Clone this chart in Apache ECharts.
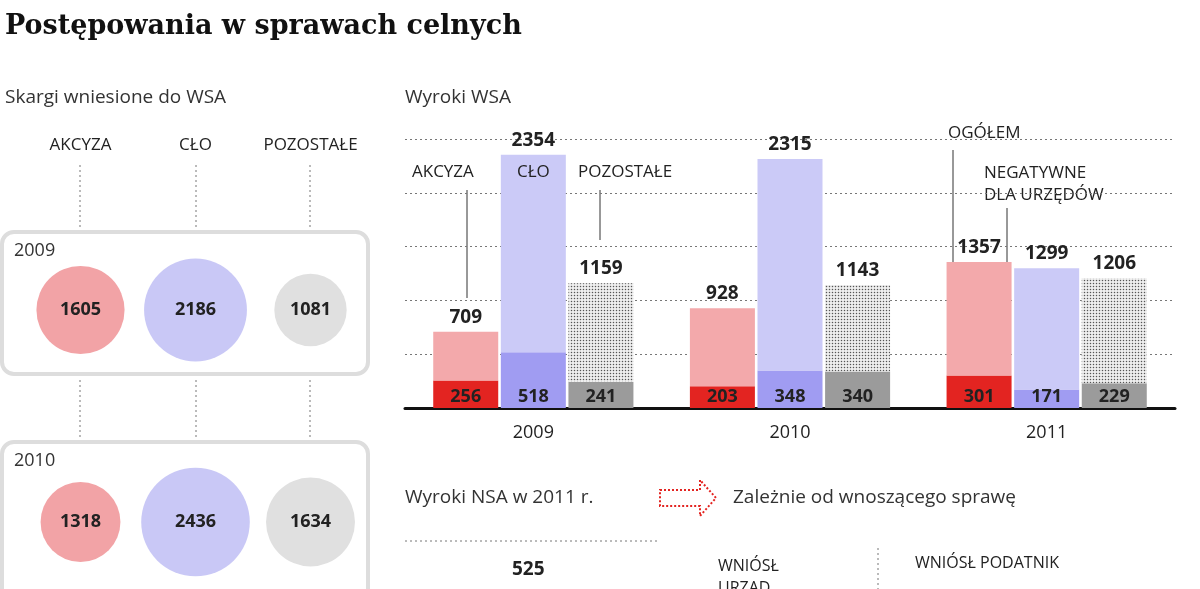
<!DOCTYPE html>
<html><head><meta charset="utf-8">
<script src="https://cdn.jsdelivr.net/npm/echarts@6/dist/echarts.min.js"></script>
<style>html,body{margin:0;background:#fff}#c{width:1200px;height:589px}</style>
</head><body><div id="c"></div>
<script>
// Skargi wniesione do WSA
var skargiTypes = ['AKCYZA', 'CŁO', 'POZOSTAŁE'];
var skargiYears = ['2009', '2010'];
var skargi2009 = [1605, 2186, 1081];
var skargi2010 = [1318, 2436, 1634];

// Wyroki WSA
var years = ['2009', '2010', '2011'];
var akcyzaTotal = [709, 928, 1357];
var akcyzaNeg = [256, 203, 301];
var cloTotal = [2354, 2315, 1299];
var cloNeg = [518, 348, 171];
var pozTotal = [1159, 1143, 1206];
var pozNeg = [241, 340, 229];

var chart = echarts.init(document.getElementById('c'));
var sans = 'Open Sans';
var dark = '#222';

function rest(t, n) { return t.map(function (v, i) { return v - n[i]; }); }
function negSeries(name, stack, vals, color) {
    return {
        name: name, type: 'bar', stack: stack, xAxisIndex: 1, yAxisIndex: 1,
        data: vals, barWidth: 65, barGap: '4%',
        itemStyle: { color: color },
        label: { show: true, position: 'insideBottom', distance: 2, color: dark, fontWeight: 'bold', fontSize: 18, fontFamily: sans }
    };
}
function topSeries(name, stack, total, neg, color, decal) {
    var s = {
        name: name, type: 'bar', stack: stack, xAxisIndex: 1, yAxisIndex: 1,
        data: rest(total, neg), barWidth: 65, barGap: '4%',
        itemStyle: { color: color },
        label: {
            show: true, position: 'top', color: dark, fontWeight: 'bold', fontSize: 19, fontFamily: sans,
            formatter: function (p) { return total[p.dataIndex]; }
        }
    };
    if (decal) s.itemStyle.decal = decal;
    return s;
}
var dots = { symbol: 'circle', symbolSize: 0.5, dashArrayX: [3, 0], dashArrayY: [3, 0], color: '#555' };

function bubbles(vals, year) {
    return vals.map(function (v, i) { return { value: [skargiTypes[i], year, v] }; });
}
var bubbleColors = ['#f2a3a6', '#c9c8f6', '#e0e0e0'];

var option = {
    animation: false,
    grid: [
        { left: 23, width: 345, top: 310, height: 212 },
        { left: 405, right: 25, top: 139, bottom: 181 }
    ],
    xAxis: [
        { type: 'category', gridIndex: 0, data: skargiTypes, position: 'top', offset: 148,
          axisLine: { show: false }, axisTick: { show: false },
          axisLabel: { color: dark, fontSize: 17, fontFamily: sans, interval: 0 } },
        { type: 'category', gridIndex: 1, data: years,
          axisLine: { lineStyle: { color: '#111', width: 3 } }, axisTick: { show: false },
          axisLabel: { color: dark, fontSize: 18, fontFamily: sans, margin: 16 } }
    ],
    yAxis: [
        { type: 'category', gridIndex: 0, data: skargiYears, inverse: true, boundaryGap: false, show: false },
        { type: 'value', gridIndex: 1, min: 0, max: 2500, interval: 500,
          axisLabel: { show: false }, axisLine: { show: false }, axisTick: { show: false },
          splitLine: { lineStyle: { color: '#777', type: [2, 3] } } }
    ],
    series: [
        {
            type: 'scatter', xAxisIndex: 0, yAxisIndex: 0,
            data: bubbles(skargi2009, '2009').concat(bubbles(skargi2010, '2010')),
            symbolSize: function (v) { return 2.2 * Math.sqrt(v[2]); },
            itemStyle: {
                opacity: 1,
                color: function (p) { return bubbleColors[p.dataIndex % 3]; }
            },
            label: { show: true, position: 'inside', color: dark, fontWeight: 'bold', fontSize: 18, fontFamily: sans,
                     formatter: function (p) { return p.value[2]; } }
        },
        negSeries('akcyza-neg', 'a', akcyzaNeg, '#e32421'),
        topSeries('akcyza', 'a', akcyzaTotal, akcyzaNeg, '#f3a9ab'),
        negSeries('clo-neg', 'c', cloNeg, '#a09cf2'),
        topSeries('clo', 'c', cloTotal, cloNeg, '#cbcaf7'),
        negSeries('poz-neg', 'p', pozNeg, '#9b9b9b'),
        topSeries('poz', 'p', pozTotal, pozNeg, '#eeeeee', dots)
    ],
    graphic: [
        { type: 'text', left: 5, top: 13, style: { text: 'Postępowania w sprawach celnych', font: 'bold 27px "DejaVu Serif"', fill: '#111' } },
        { type: 'text', left: 5, top: 88, style: { text: 'Skargi wniesione do WSA', font: '19px "Open Sans"', fill: '#333' } },
        { type: 'text', left: 405, top: 88, style: { text: 'Wyroki WSA', font: '19px "Open Sans"', fill: '#333' } },
        // boxes
        { type: 'rect', z: -1, shape: { x: 2, y: 232, width: 366, height: 142, r: 12 }, style: { fill: '#fff', stroke: '#ddd', lineWidth: 4 } },
        { type: 'rect', z: -1, shape: { x: 2, y: 442, width: 366, height: 170, r: 12 }, style: { fill: '#fff', stroke: '#ddd', lineWidth: 4 } },
        { type: 'text', left: 14, top: 242, style: { text: '2009', font: '18px "Open Sans"', fill: '#333' } },
        { type: 'text', left: 14, top: 452, style: { text: '2010', font: '18px "Open Sans"', fill: '#333' } },
        // connectors left
        { type: 'group', children: [80, 196, 310].map(function (x) {
            return { type: 'group', children: [
                { type: 'line', shape: { x1: x, y1: 165, x2: x, y2: 228 }, style: { stroke: '#777', lineDash: [2, 3] } },
                { type: 'line', shape: { x1: x, y1: 380, x2: x, y2: 438 }, style: { stroke: '#777', lineDash: [2, 3] } }
            ] };
        }) },
        // bar annotations
        { type: 'text', left: 412, top: 164, style: { text: 'AKCYZA', font: '17px "Open Sans"', fill: dark } },
        { type: 'line', shape: { x1: 467, y1: 190, x2: 467, y2: 298 }, style: { stroke: '#333' } },
        { type: 'text', left: 517, top: 164, z: 10, style: { text: 'CŁO', font: '17px "Open Sans"', fill: dark } },
        { type: 'text', left: 578, top: 164, style: { text: 'POZOSTAŁE', font: '17px "Open Sans"', fill: dark } },
        { type: 'line', shape: { x1: 600, y1: 190, x2: 600, y2: 240 }, style: { stroke: '#333' } },
        { type: 'text', left: 948, top: 125, style: { text: 'OGÓŁEM', font: '17px "Open Sans"', fill: dark, backgroundColor: '#fff' } },
        { type: 'line', shape: { x1: 953, y1: 150, x2: 953, y2: 262 }, style: { stroke: '#333' } },
        { type: 'text', left: 984, top: 162, style: { text: 'NEGATYWNE\nDLA URZĘDÓW', font: '17px "Open Sans"', lineHeight: 22, fill: dark, backgroundColor: '#fff' } },
        { type: 'line', shape: { x1: 1007, y1: 208, x2: 1007, y2: 372 }, style: { stroke: '#333' } },
        // bottom section
        { type: 'text', left: 405, top: 488, style: { text: 'Wyroki NSA w 2011 r.', font: '19px "Open Sans"', fill: '#333' } },
        { type: 'polygon', shape: { points: [[660, 490], [700, 490], [700, 480], [716, 498], [700, 516], [700, 506], [660, 506]] },
          style: { fill: '#fff', stroke: '#e32421', lineWidth: 2, lineDash: [2, 2] } },
        { type: 'text', left: 733, top: 488, style: { text: 'Zależnie od wnoszącego sprawę', font: '19px "Open Sans"', fill: '#333' } },
        { type: 'line', shape: { x1: 405, y1: 541, x2: 660, y2: 541 }, style: { stroke: '#777', lineDash: [2, 3] } },
        { type: 'text', left: 512, top: 560, style: { text: '525', font: 'bold 19px "Open Sans"', fill: dark } },
        { type: 'text', left: 718, top: 555, style: { text: 'WNIÓSŁ\nURZĄD', font: '16px "Open Sans"', lineHeight: 22, fill: dark } },
        { type: 'line', shape: { x1: 878, y1: 548, x2: 878, y2: 589 }, style: { stroke: '#777', lineDash: [2, 3] } },
        { type: 'text', left: 915, top: 555, style: { text: 'WNIÓSŁ PODATNIK', font: '16px "Open Sans"', fill: dark } }
    ]
};
chart.setOption(option);
</script></body></html>
